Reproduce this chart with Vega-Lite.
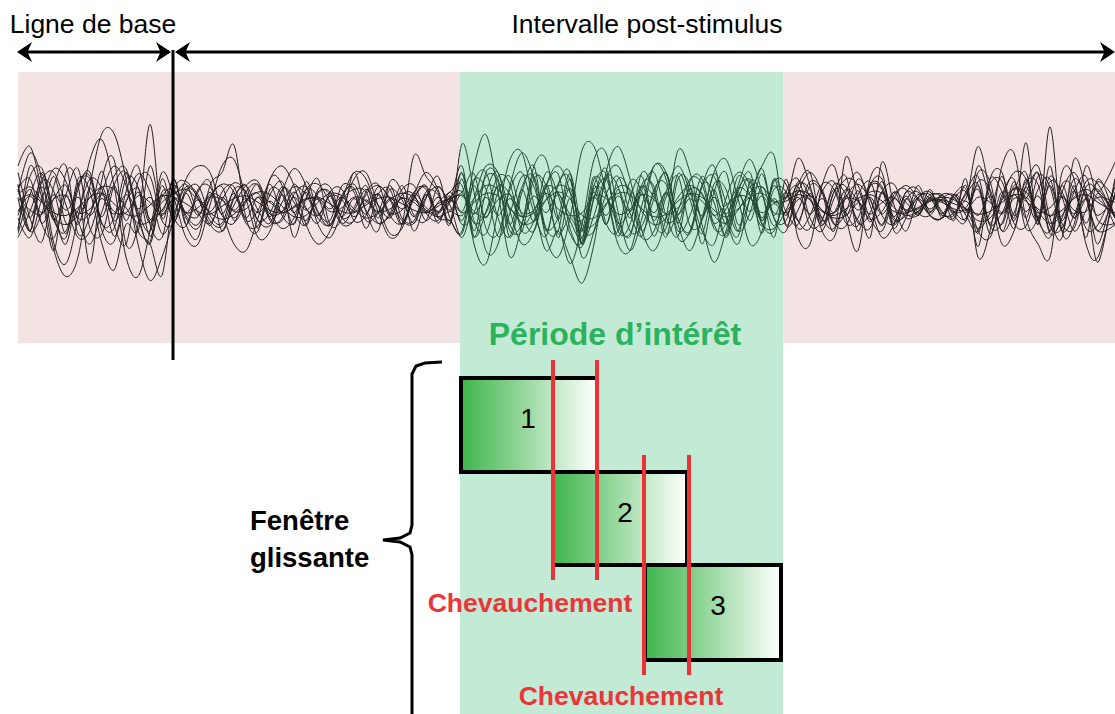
{
"$schema": "https://vega.github.io/schema/vega-lite/v6.json",
"width": 1115, "height": 714, "padding": 0,
"autosize": {"type": "none"},
"background": "white",
"config": {"view": {"stroke": null}},
"resolve": {"scale": {"y": "independent"}},
"encoding": {
  "x": {"field": "t", "type": "quantitative", "scale": {"domain": [-346, 1884], "nice": false, "zero": false}, "axis": null},
  "y": {"field": "y", "type": "quantitative", "scale": {"domain": [-509, 205], "nice": false, "zero": false}, "axis": null}
},
"layer": [
{"data": {"values": [{"t": -310, "t2": 574, "y": 133, "y2": -138}, {"t": 1220, "t2": 1884, "y": 133, "y2": -138}]},
 "mark": {"type": "rect", "color": "#f4e3e3"},
 "encoding": {"x2": {"field": "t2"}, "y2": {"field": "y2"}}},
{"data": {"values": [
{"t":-310,"a":10,"b":-20,"c":30,"d":15,"e":-25,"f":5,"g":12,"h":-8,"i":8,"j":-5,"k":3,"l":6,"m":-18,"n":25,"o":-10,"p":12,"q":-22,"r":16},
{"t":-286,"a":40,"b":30,"c":45,"d":-20,"e":-5,"f":-20,"g":-10,"h":12,"i":14,"j":7,"k":8,"l":-4,"m":22,"n":-10,"o":-25,"p":20,"q":8,"r":-20},
{"t":-262,"a":20,"b":5,"c":10,"d":25,"e":20,"f":18,"g":14,"h":-14,"i":3,"j":-6,"k":2,"l":-7,"m":28,"n":-28,"o":5,"p":-15,"q":24,"r":-6},
{"t":-238,"a":-30,"b":-35,"c":-35,"d":-10,"e":25,"f":10,"g":-12,"h":5,"i":-10,"j":8,"k":-6,"l":5,"m":-5,"n":15,"o":28,"p":-25,"q":-12,"r":22},
{"t":-214,"a":-45,"b":25,"c":-55,"d":-25,"e":0,"f":-22,"g":8,"h":15,"i":-15,"j":-4,"k":-8,"l":7,"m":-30,"n":30,"o":18,"p":8,"q":-20,"r":-14},
{"t":-190,"a":-10,"b":15,"c":-40,"d":20,"e":-25,"f":15,"g":-15,"h":-10,"i":-8,"j":6,"k":-2,"l":-6,"m":12,"n":-22,"o":-12,"p":28,"q":16,"r":-4},
{"t":-166,"a":35,"b":-45,"c":15,"d":10,"e":-20,"f":20,"g":13,"h":-6,"i":6,"j":-8,"k":6,"l":-3,"m":25,"n":-8,"o":-30,"p":-18,"q":22,"r":20},
{"t":-142,"a":50,"b":20,"c":55,"d":-30,"e":10,"f":-15,"g":-9,"h":14,"i":14,"j":5,"k":9,"l":8,"m":-20,"n":26,"o":-5,"p":-22,"q":-14,"r":12},
{"t":-118,"a":15,"b":35,"c":55,"d":-50,"e":30,"f":-10,"g":15,"h":-12,"i":12,"j":-7,"k":1,"l":-5,"m":-28,"n":-15,"o":22,"p":15,"q":-18,"r":-24},
{"t":-94,"a":-40,"b":-30,"c":20,"d":-15,"e":15,"f":25,"g":-12,"h":3,"i":-2,"j":8,"k":-7,"l":-6,"m":10,"n":-30,"o":28,"p":25,"q":20,"r":2},
{"t":-70,"a":-55,"b":-15,"c":-30,"d":-20,"e":-20,"f":-5,"g":10,"h":13,"i":-14,"j":-3,"k":-8,"l":7,"m":30,"n":18,"o":-8,"p":-10,"q":14,"r":24},
{"t":-46,"a":-20,"b":62,"c":-58,"d":30,"e":-30,"f":-20,"g":-14,"h":-11,"i":-12,"j":6,"k":0,"l":2,"m":-15,"n":22,"o":-30,"p":-28,"q":-24,"r":10},
{"t":-22,"a":25,"b":-10,"c":-40,"d":-5,"e":-54,"f":15,"g":8,"h":-4,"i":2,"j":-7,"k":7,"l":-8,"m":-25,"n":-12,"o":10,"p":20,"q":6,"r":-22},
{"t":2,"a":5,"b":20,"c":-10,"d":20,"e":10,"f":-12,"g":-10,"h":10,"i":9,"j":5,"k":6,"l":5,"m":15,"n":-14,"o":8,"p":-10,"q":12,"r":-6},
{"t":26,"a":-25,"b":-15,"c":20,"d":-15,"e":18,"f":10,"g":9,"h":-6,"i":12,"j":-6,"k":1,"l":-6,"m":-10,"n":12,"o":16,"p":-16,"q":-8,"r":14},
{"t":50,"a":-30,"b":-25,"c":30,"d":10,"e":5,"f":15,"g":-8,"h":-9,"i":4,"j":4,"k":-5,"l":-2,"m":-18,"n":6,"o":-6,"p":12,"q":-15,"r":8},
{"t":74,"a":0,"b":15,"c":25,"d":18,"e":-15,"f":-8,"g":10,"h":8,"i":-6,"j":-5,"k":-7,"l":6,"m":5,"n":-16,"o":-14,"p":14,"q":6,"r":-12},
{"t":98,"a":30,"b":25,"c":-5,"d":-20,"e":-20,"f":-14,"g":-7,"h":5,"i":-11,"j":6,"k":-1,"l":4,"m":16,"n":10,"o":4,"p":-8,"q":14,"r":-16},
{"t":122,"a":35,"b":46,"c":-30,"d":5,"e":0,"f":12,"g":9,"h":-10,"i":-7,"j":-4,"k":5,"l":-5,"m":10,"n":14,"o":17,"p":-14,"q":-12,"r":6},
{"t":146,"a":5,"b":-10,"c":-35,"d":15,"e":15,"f":10,"g":-10,"h":4,"i":3,"j":5,"k":7,"l":-3,"m":-14,"n":-12,"o":10,"p":10,"q":2,"r":15},
{"t":170,"a":-25,"b":-20,"c":-10,"d":-18,"e":18,"f":-12,"g":6,"h":9,"i":10,"j":-6,"k":2,"l":6,"m":-16,"n":-4,"o":-12,"p":15,"q":16,"r":-4},
{"t":194,"a":-20,"b":20,"c":20,"d":12,"e":-5,"f":-6,"g":-9,"h":-7,"i":8,"j":3,"k":-4,"l":2,"m":8,"n":16,"o":-16,"p":-12,"q":-10,"r":-14},
{"t":218,"a":10,"b":15,"c":30,"d":8,"e":-18,"f":14,"g":8,"h":-5,"i":-1,"j":-5,"k":-6,"l":-6,"m":18,"n":-8,"o":2,"p":-10,"q":-12,"r":12},
{"t":242,"a":28,"b":-25,"c":15,"d":-15,"e":-10,"f":2,"g":-6,"h":10,"i":-9,"j":6,"k":-2,"l":-1,"m":-6,"n":-14,"o":14,"p":16,"q":8,"r":6},
{"t":266,"a":15,"b":5,"c":-15,"d":18,"e":12,"f":-12,"g":10,"h":-3,"i":-8,"j":-4,"k":4,"l":5,"m":-15,"n":12,"o":8,"p":-2,"q":14,"r":-16},
{"t":290,"a":-15,"b":20,"c":-30,"d":-5,"e":16,"f":9,"g":-8,"h":-8,"i":2,"j":5,"k":6,"l":4,"m":12,"n":6,"o":-10,"p":-14,"q":-6,"r":10},
{"t":314,"a":-25,"b":-15,"c":-20,"d":-12,"e":2,"f":10,"g":7,"h":7,"i":9,"j":-3,"k":1,"l":-5,"m":14,"n":-16,"o":-15,"p":10,"q":-16,"r":8},
{"t":338,"a":-5,"b":-10,"c":5,"d":15,"e":-15,"f":-10,"g":-9,"h":4,"i":7,"j":6,"k":-5,"l":-2,"m":-10,"n":8,"o":6,"p":12,"q":4,"r":-14},
{"t":362,"a":20,"b":25,"c":25,"d":10,"e":-12,"f":-4,"g":5,"h":-9,"i":-3,"j":-5,"k":-6,"l":6,"m":-12,"n":13,"o":16,"p":-12,"q":12,"r":-2},
{"t":386,"a":25,"b":-5,"c":20,"d":-18,"e":8,"f":12,"g":-7,"h":2,"i":-10,"j":4,"k":0,"l":3,"m":10,"n":-12,"o":-4,"p":-8,"q":10,"r":15},
{"t":410,"a":0,"b":-20,"c":-5,"d":8,"e":15,"f":0,"g":9,"h":8,"i":-6,"j":-6,"k":5,"l":-5,"m":16,"n":-6,"o":-14,"p":14,"q":-14,"r":-10},
{"t":434,"a":-22,"b":18,"c":-25,"d":12,"e":5,"f":-10,"g":-8,"h":-6,"i":4,"j":5,"k":6,"l":-3,"m":-8,"n":15,"o":-8,"p":4,"q":-6,"r":12},
{"t":458,"a":-18,"b":10,"c":-15,"d":-15,"e":-12,"f":8,"g":6,"h":-4,"i":9,"j":-3,"k":1,"l":5,"m":-14,"n":-10,"o":12,"p":-15,"q":15,"r":4},
{"t":482,"a":8,"b":-20,"c":38,"d":5,"e":-14,"f":8,"g":-9,"h":9,"i":6,"j":4,"k":-4,"l":2,"m":6,"n":-12,"o":15,"p":10,"q":-8,"r":-14},
{"t":506,"a":25,"b":5,"c":22,"d":14,"e":6,"f":-12,"g":8,"h":-2,"i":-4,"j":-5,"k":-6,"l":-6,"m":15,"n":10,"o":-6,"p":12,"q":-12,"r":8},
{"t":530,"a":12,"b":22,"c":10,"d":-10,"e":14,"f":2,"g":-5,"h":-7,"i":-9,"j":6,"k":-1,"l":1,"m":-9,"n":8,"o":-12,"p":-14,"q":14,"r":-6},
{"t":554,"a":-15,"b":-10,"c":-12,"d":3,"e":0,"f":10,"g":7,"h":6,"i":-5,"j":-4,"k":4,"l":5,"m":-12,"n":-14,"o":4,"p":6,"q":2,"r":10},
{"t":578,"a":47,"b":-20,"c":25,"d":30,"e":-25,"f":15,"g":-12,"h":10,"i":-8,"j":8,"k":-6,"l":7,"m":-22,"n":20,"o":10,"p":-15,"q":24,"r":-5},
{"t":602,"a":10,"b":30,"c":-30,"d":-20,"e":5,"f":-25,"g":15,"h":-14,"i":5,"j":-7,"k":2,"l":-5,"m":18,"n":-24,"o":24,"p":-6,"q":-12,"r":20},
{"t":626,"a":-35,"b":54,"c":-45,"d":25,"e":30,"f":10,"g":-10,"h":-6,"i":15,"j":6,"k":9,"l":-9,"m":25,"n":-5,"o":-18,"p":22,"q":-22,"r":12},
{"t":650,"a":-30,"b":10,"c":-5,"d":20,"e":25,"f":25,"g":14,"h":15,"i":12,"j":-8,"k":7,"l":4,"m":-10,"n":22,"o":-22,"p":18,"q":10,"r":-24},
{"t":674,"a":15,"b":-40,"c":35,"d":-25,"e":-5,"f":-15,"g":-15,"h":8,"i":-2,"j":5,"k":-3,"l":8,"m":-24,"n":16,"o":12,"p":-20,"q":22,"r":-6},
{"t":698,"a":40,"b":-15,"c":40,"d":10,"e":-30,"f":-20,"g":12,"h":-15,"i":-14,"j":-9,"k":-9,"l":-6,"m":14,"n":-20,"o":25,"p":-14,"q":-8,"r":22},
{"t":722,"a":20,"b":30,"c":0,"d":30,"e":-20,"f":20,"g":-13,"h":-4,"i":-12,"j":7,"k":-6,"l":-4,"m":22,"n":-12,"o":-6,"p":24,"q":-20,"r":14},
{"t":746,"a":-25,"b":35,"c":-35,"d":-20,"e":15,"f":15,"g":16,"h":14,"i":4,"j":-6,"k":4,"l":9,"m":-18,"n":25,"o":-24,"p":8,"q":14,"r":-18},
{"t":770,"a":-40,"b":-10,"c":-20,"d":15,"e":30,"f":-25,"g":-11,"h":10,"i":15,"j":8,"k":10,"l":-3,"m":-20,"n":8,"o":16,"p":-22,"q":24,"r":-10},
{"t":794,"a":-10,"b":-45,"c":-40,"d":25,"e":10,"f":5,"g":13,"h":-12,"i":10,"j":-7,"k":5,"l":-8,"m":20,"n":-22,"o":20,"p":-10,"q":-18,"r":24},
{"t":818,"a":42,"b":-15,"c":-60,"d":-30,"e":-40,"f":-30,"g":-20,"h":-25,"i":-15,"j":-12,"k":-8,"l":-6,"m":-30,"n":-28,"o":-26,"p":-20,"q":-32,"r":-18},
{"t":842,"a":45,"b":35,"c":-30,"d":5,"e":-20,"f":15,"g":10,"h":12,"i":-15,"j":6,"k":-10,"l":7,"m":15,"n":20,"o":-8,"p":22,"q":6,"r":-20},
{"t":866,"a":10,"b":40,"c":25,"d":28,"e":20,"f":-15,"g":-15,"h":8,"i":0,"j":-8,"k":1,"l":5,"m":24,"n":10,"o":22,"p":-14,"q":20,"r":8},
{"t":890,"a":-30,"b":-5,"c":45,"d":-20,"e":30,"f":20,"g":12,"h":-14,"i":14,"j":7,"k":9,"l":-7,"m":-16,"n":-24,"o":14,"p":-20,"q":-12,"r":22},
{"t":914,"a":-35,"b":-35,"c":20,"d":-15,"e":5,"f":10,"g":-10,"h":-5,"i":12,"j":-5,"k":8,"l":-3,"m":-22,"n":6,"o":-20,"p":18,"q":-24,"r":-6},
{"t":938,"a":0,"b":-10,"c":-20,"d":25,"e":-25,"f":-20,"g":15,"h":14,"i":-5,"j":8,"k":-3,"l":8,"m":12,"n":22,"o":-16,"p":10,"q":16,"r":-24},
{"t":962,"a":30,"b":30,"c":-35,"d":10,"e":-20,"f":5,"g":-12,"h":6,"i":-15,"j":-6,"k":-9,"l":4,"m":25,"n":-14,"o":10,"p":-24,"q":14,"r":12},
{"t":986,"a":25,"b":20,"c":-10,"d":-25,"e":10,"f":25,"g":10,"h":-13,"i":-10,"j":9,"k":-7,"l":-7,"m":-8,"n":-18,"o":24,"p":6,"q":-22,"r":16},
{"t":1010,"a":-15,"b":-25,"c":42,"d":20,"e":30,"f":-10,"g":-14,"h":-8,"i":6,"j":-7,"k":3,"l":-2,"m":-24,"n":24,"o":-10,"p":22,"q":-4,"r":-20},
{"t":1034,"a":-35,"b":-20,"c":25,"d":15,"e":10,"f":-20,"g":13,"h":12,"i":15,"j":5,"k":9,"l":8,"m":18,"n":4,"o":-22,"p":-16,"q":20,"r":-8},
{"t":1058,"a":-10,"b":15,"c":-15,"d":-30,"e":-20,"f":15,"g":-10,"h":9,"i":8,"j":-8,"k":6,"l":3,"m":20,"n":-22,"o":14,"p":-12,"q":16,"r":22},
{"t":1082,"a":25,"b":30,"c":-44,"d":10,"e":-30,"f":10,"g":12,"h":-14,"i":-8,"j":6,"k":-4,"l":-8,"m":-15,"n":16,"o":22,"p":24,"q":-18,"r":2},
{"t":1106,"a":35,"b":-10,"c":-20,"d":25,"e":5,"f":-25,"g":-15,"h":-3,"i":-14,"j":-7,"k":-9,"l":0,"m":-22,"n":12,"o":-8,"p":2,"q":-14,"r":-24},
{"t":1130,"a":5,"b":-30,"c":15,"d":-15,"e":25,"f":5,"g":10,"h":13,"i":-4,"j":8,"k":-3,"l":7,"m":10,"n":-20,"o":-24,"p":-20,"q":22,"r":12},
{"t":1154,"a":-30,"b":5,"c":35,"d":5,"e":15,"f":20,"g":-12,"h":7,"i":10,"j":-5,"k":6,"l":5,"m":25,"n":-6,"o":18,"p":14,"q":8,"r":18},
{"t":1178,"a":-20,"b":30,"c":10,"d":28,"e":-15,"f":-10,"g":14,"h":-12,"i":14,"j":7,"k":9,"l":-6,"m":-12,"n":24,"o":8,"p":-22,"q":-16,"r":-14},
{"t":1202,"a":20,"b":38,"c":-25,"d":-10,"e":-20,"f":15,"g":-8,"h":5,"i":3,"j":-6,"k":2,"l":1,"m":18,"n":-10,"o":-16,"p":20,"q":12,"r":-18},
{"t":1226,"a":5,"b":-15,"c":20,"d":-20,"e":10,"f":-5,"g":10,"h":-8,"i":6,"j":-5,"k":3,"l":-6,"m":16,"n":-12,"o":6,"p":-16,"q":10,"r":-4},
{"t":1250,"a":36,"b":10,"c":-25,"d":15,"e":20,"f":-15,"g":-12,"h":10,"i":11,"j":6,"k":8,"l":4,"m":-12,"n":18,"o":14,"p":-4,"q":-18,"r":16},
{"t":1274,"a":15,"b":25,"c":-30,"d":25,"e":-10,"f":15,"g":9,"h":4,"i":8,"j":-7,"k":4,"l":7,"m":-18,"n":6,"o":-16,"p":18,"q":-8,"r":12},
{"t":1298,"a":-20,"b":10,"c":15,"d":-15,"e":-20,"f":10,"g":-10,"h":-12,"i":-4,"j":5,"k":-5,"l":-4,"m":10,"n":-16,"o":-12,"p":12,"q":16,"r":-10},
{"t":1322,"a":-25,"b":-20,"c":30,"d":10,"e":5,"f":-15,"g":12,"h":-6,"i":-10,"j":-6,"k":-8,"l":-6,"m":18,"n":10,"o":16,"p":-14,"q":12,"r":-18},
{"t":1346,"a":10,"b":37,"c":-10,"d":22,"e":20,"f":-5,"g":-8,"h":12,"i":-8,"j":7,"k":-3,"l":5,"m":-6,"n":14,"o":8,"p":-16,"q":-14,"r":6},
{"t":1370,"a":25,"b":5,"c":-35,"d":-20,"e":15,"f":20,"g":11,"h":3,"i":2,"j":-4,"k":5,"l":3,"m":-16,"n":-14,"o":-12,"p":8,"q":-10,"r":16},
{"t":1394,"a":0,"b":-25,"c":20,"d":15,"e":-10,"f":5,"g":-13,"h":-11,"i":10,"j":6,"k":8,"l":-7,"m":14,"n":-6,"o":-18,"p":18,"q":16,"r":4},
{"t":1418,"a":-25,"b":33,"c":25,"d":20,"e":-20,"f":-15,"g":10,"h":-5,"i":9,"j":-7,"k":3,"l":2,"m":12,"n":18,"o":10,"p":-8,"q":14,"r":-16},
{"t":1442,"a":-15,"b":0,"c":-20,"d":-15,"e":5,"f":10,"g":-9,"h":10,"i":-2,"j":5,"k":-5,"l":6,"m":-18,"n":-10,"o":16,"p":-14,"q":-12,"r":8},
{"t":1466,"a":10,"b":-20,"c":-10,"d":5,"e":15,"f":-10,"g":7,"h":2,"i":-8,"j":-4,"k":-6,"l":-4,"m":4,"n":-8,"o":-6,"p":10,"q":-6,"r":12},
{"t":1490,"a":12,"b":5,"c":15,"d":-8,"e":5,"f":-5,"g":-8,"h":-6,"i":-5,"j":5,"k":-2,"l":-3,"m":10,"n":6,"o":-8,"p":4,"q":8,"r":-6},
{"t":1514,"a":-8,"b":10,"c":-5,"d":12,"e":-8,"f":8,"g":6,"h":5,"i":3,"j":-3,"k":3,"l":4,"m":-8,"n":8,"o":6,"p":-6,"q":5,"r":-8},
{"t":1538,"a":-10,"b":-5,"c":8,"d":-10,"e":-10,"f":6,"g":-7,"h":3,"i":6,"j":4,"k":4,"l":2,"m":-10,"n":-6,"o":8,"p":8,"q":-8,"r":5},
{"t":1562,"a":8,"b":-10,"c":-12,"d":6,"e":5,"f":-8,"g":8,"h":-6,"i":4,"j":-5,"k":1,"l":-3,"m":8,"n":-8,"o":-5,"p":6,"q":-6,"r":8},
{"t":1586,"a":5,"b":15,"c":20,"d":-12,"e":10,"f":-12,"g":-6,"h":-2,"i":-3,"j":3,"k":-3,"l":-4,"m":12,"n":10,"o":-10,"p":-8,"q":8,"r":-4},
{"t":1610,"a":45,"b":-32,"c":-40,"d":25,"e":-20,"f":30,"g":15,"h":12,"i":-12,"j":-8,"k":-7,"l":6,"m":-22,"n":22,"o":18,"p":-20,"q":16,"r":-18},
{"t":1634,"a":10,"b":20,"c":-20,"d":18,"e":-25,"f":5,"g":-14,"h":-15,"i":-10,"j":7,"k":-5,"l":2,"m":20,"n":-16,"o":12,"p":16,"q":-22,"r":-6},
{"t":1658,"a":-30,"b":25,"c":30,"d":-20,"e":5,"f":-15,"g":10,"h":-6,"i":4,"j":-6,"k":2,"l":-7,"m":10,"n":-14,"o":-20,"p":18,"q":8,"r":22},
{"t":1682,"a":-20,"b":-10,"c":40,"d":10,"e":25,"f":15,"g":-12,"h":13,"i":12,"j":8,"k":8,"l":5,"m":-18,"n":18,"o":-6,"p":-14,"q":20,"r":-8},
{"t":1706,"a":15,"b":48,"c":-10,"d":25,"e":20,"f":5,"g":14,"h":4,"i":10,"j":-5,"k":6,"l":3,"m":20,"n":-10,"o":18,"p":-16,"q":-18,"r":10},
{"t":1730,"a":30,"b":-15,"c":-30,"d":-15,"e":-10,"f":25,"g":-10,"h":-12,"i":-5,"j":7,"k":-3,"l":-6,"m":-12,"n":22,"o":16,"p":12,"q":-10,"r":24},
{"t":1754,"a":-10,"b":60,"c":-40,"d":30,"e":-25,"f":-20,"g":15,"h":18,"i":-14,"j":-9,"k":-8,"l":-2,"m":-20,"n":14,"o":-22,"p":20,"q":22,"r":-16},
{"t":1778,"a":-25,"b":-20,"c":25,"d":-20,"e":10,"f":15,"g":-12,"h":10,"i":-8,"j":6,"k":-4,"l":7,"m":16,"n":-20,"o":-10,"p":-14,"q":6,"r":-18},
{"t":1802,"a":35,"b":-15,"c":20,"d":15,"e":25,"f":-10,"g":11,"h":-10,"i":6,"j":-7,"k":5,"l":-4,"m":12,"n":-8,"o":20,"p":-18,"q":-20,"r":10},
{"t":1826,"a":10,"b":30,"c":-30,"d":-25,"e":5,"f":10,"g":-14,"h":5,"i":12,"j":5,"k":8,"l":-5,"m":-18,"n":18,"o":6,"p":14,"q":-4,"r":22},
{"t":1850,"a":-44,"b":10,"c":-40,"d":20,"e":-20,"f":-30,"g":9,"h":12,"i":5,"j":-8,"k":2,"l":6,"m":-15,"n":16,"o":-20,"p":10,"q":18,"r":-12},
{"t":1884,"a":20,"b":33,"c":10,"d":-10,"e":-15,"f":20,"g":-10,"h":-8,"i":-9,"j":6,"k":-6,"l":2,"m":14,"n":-10,"o":8,"p":-16,"q":4,"r":-14}
 ]},
 "transform": [{"fold": ["a","b","c","d","e","f","g","h","i","j","k","l","m","n","o","p","q","r"], "as": ["ch", "y"]}],
 "mark": {"type": "line", "color": "#231f20", "strokeWidth": 1, "interpolate": "cardinal"},
 "encoding": {
   "y": {"field": "y", "type": "quantitative", "scale": {"domain": [-391.5, 157.7], "nice": false, "zero": false}, "axis": null},
   "detail": {"field": "ch", "type": "nominal"}}},
{"data": {"values": [{"t": 574, "t2": 1220, "y": 133, "y2": -509}]},
 "mark": {"type": "rect", "color": "#23b367", "opacity": 0.277},
 "encoding": {"x2": {"field": "t2"}, "y2": {"field": "y2"}}},
{"data": {"values": [{"t": 0, "y": 155, "y2": -155}]},
 "mark": {"type": "rule", "color": "black", "strokeWidth": 3},
 "encoding": {"y2": {"field": "y2"}}},
{"data": {"values": [{"t": -306, "t2": -8, "y": 153}, {"t": 8, "t2": 1878, "y": 153}]},
 "mark": {"type": "rule", "color": "black", "strokeWidth": 3},
 "encoding": {"x2": {"field": "t2"}}},
{"data": {"values": [{"t": -312, "y": 153, "dir": "left"}, {"t": -4, "y": 153, "dir": "right"}, {"t": 4, "y": 153, "dir": "left"}, {"t": 1884, "y": 153, "dir": "right"}]},
 "mark": {"type": "point", "filled": true, "color": "black", "opacity": 1, "size": 400, "strokeWidth": 0},
 "encoding": {"shape": {"field": "dir", "type": "nominal", "scale": {"domain": ["left", "right"], "range": ["M0,0L1.5,-1L1.05,0L1.5,1Z", "M0,0L-1.5,-1L-1.05,0L-1.5,1Z"]}, "legend": null}}},
{"data": {"values": [{"t": -160, "y": 172, "label": "Ligne de base"}, {"t": 948, "y": 172, "label": "Intervalle post-stimulus"}]},
 "mark": {"type": "text", "font": "Liberation Sans", "fontSize": 26.5, "color": "black", "align": "center", "baseline": "alphabetic"},
 "encoding": {"text": {"field": "label"}}},
{"data": {"values": [{"t": 884, "y": -140, "label": "Période d’intérêt"}]},
 "mark": {"type": "text", "font": "Liberation Sans", "fontSize": 32, "fontWeight": "bold", "color": "#2bb25c", "align": "center", "baseline": "alphabetic"},
 "encoding": {"text": {"field": "label"}}},
{"data": {"values": [{"t": 576, "t2": 848, "y": -173, "y2": -267, "n": "1"}, {"t": 760, "t2": 1028, "y": -267, "y2": -360, "n": "2"}, {"t": 944, "t2": 1216, "y": -360, "y2": -455, "n": "3"}]},
 "mark": {"type": "rect", "fill": {"gradient": "linear", "x1": 0, "y1": 0, "x2": 1, "y2": 0, "stops": [{"offset": 0, "color": "#3db54a"}, {"offset": 1, "color": "#ffffff"}]}, "stroke": "black", "strokeWidth": 4},
 "encoding": {"x2": {"field": "t2"}, "y2": {"field": "y2"}}},
{"data": {"values": [{"t": 710, "y": -223, "n": "1"}, {"t": 904, "y": -317, "n": "2"}, {"t": 1090, "y": -410, "n": "3"}]},
 "mark": {"type": "text", "font": "Liberation Sans", "fontSize": 28, "color": "black", "align": "center", "baseline": "alphabetic"},
 "encoding": {"text": {"field": "n"}}},
{"data": {"values": [{"t": 760, "y": -155, "y2": -375}, {"t": 848, "y": -155, "y2": -375}, {"t": 942, "y": -250, "y2": -470}, {"t": 1032, "y": -250, "y2": -470}]},
 "mark": {"type": "rule", "color": "#eb3237", "strokeWidth": 4},
 "encoding": {"y2": {"field": "y2"}}},
{"data": {"values": [{"t": 714, "y": -407, "label": "Chevauchement"}, {"t": 896, "y": -500, "label": "Chevauchement"}]},
 "mark": {"type": "text", "font": "Liberation Sans", "fontSize": 26.5, "fontWeight": "bold", "color": "#ea3539", "align": "center", "baseline": "alphabetic"},
 "encoding": {"text": {"field": "label"}}},
{"data": {"values": [{"t": 154, "y": -325, "label": "Fenêtre"}, {"t": 154, "y": -362, "label": "glissante"}]},
 "mark": {"type": "text", "font": "Liberation Sans", "fontSize": 27.5, "fontWeight": "bold", "color": "black", "align": "left", "baseline": "alphabetic"},
 "encoding": {"text": {"field": "label"}}},
{"data": {"values": [
  {"i": 1, "t": 538, "y": -157}, {"i": 2, "t": 504, "y": -158}, {"i": 3, "t": 486, "y": -161}, {"i": 4, "t": 478, "y": -169},
  {"i": 5, "t": 478, "y": -320}, {"i": 6, "t": 474, "y": -328}, {"i": 7, "t": 454, "y": -333}, {"i": 8, "t": 420, "y": -335},
  {"i": 9, "t": 454, "y": -337}, {"i": 10, "t": 474, "y": -342}, {"i": 11, "t": 478, "y": -350}, {"i": 12, "t": 478, "y": -509}]},
 "mark": {"type": "line", "color": "black", "strokeWidth": 3, "interpolate": "linear"},
 "encoding": {"order": {"field": "i", "type": "quantitative"}}}
]
}
